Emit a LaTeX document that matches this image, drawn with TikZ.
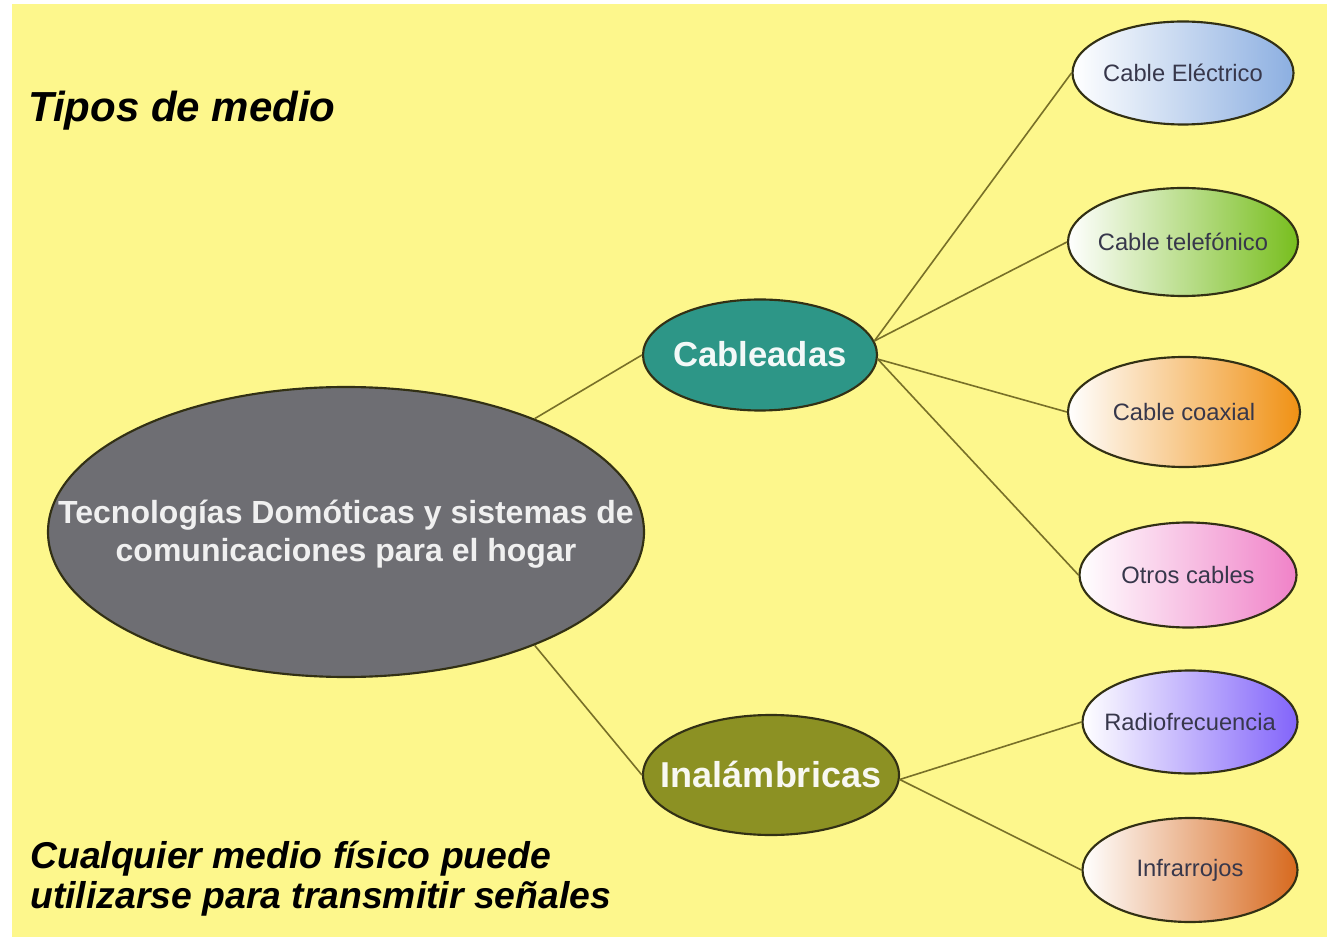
\documentclass[tikz,border=0pt]{standalone}
\usepackage{fontspec}
\setmainfont{Liberation Sans}
\usetikzlibrary{shapes.geometric}
\definecolor{bgyellow}{RGB}{253,247,140}
\definecolor{bigfill}{RGB}{110,110,115}
\definecolor{cabfill}{RGB}{45,150,135}
\definecolor{inalfill}{RGB}{140,145,35}
\definecolor{elcol}{RGB}{140,175,225}
\definecolor{telcol}{RGB}{120,190,30}
\definecolor{coaxcol}{RGB}{240,145,20}
\definecolor{otroscol}{RGB}{240,130,200}
\definecolor{radiocol}{RGB}{130,100,250}
\definecolor{infracol}{RGB}{215,105,30}
\definecolor{outline}{RGB}{50,48,20}
\definecolor{linkcol}{RGB}{120,112,40}
\definecolor{childtext}{RGB}{55,55,75}
\tikzset{
  oval/.style={ellipse, draw=outline, line width=1.6pt, inner sep=0pt},
  childoval/.style={oval, shading=axis, shading angle=90, left color=white, right color=#1},
  childlabel/.style={text=childtext, font=\fontsize{17.8}{20}\selectfont},
  link/.style={draw=linkcol, line width=1.2pt},
  heading/.style={font=\fontsize{#1}{#1}\selectfont\bfseries\itshape, text=black, inner sep=0pt}
}
\begin{document}
\begin{tikzpicture}[x=0.75pt,y=-0.75pt]
\fill[white] (0,0) rectangle (1327,937);
\fill[bgyellow] (12,4) rectangle (1327,937);
\useasboundingbox (0,0) rectangle (1327,937);

% main nodes
\node[oval, fill=bigfill, minimum width=447pt, minimum height=217.5pt] (big) at (346,532) {};
\node[text=white!94!black, font=\fontsize{24}{28.5}\selectfont\bfseries, align=center] (bigtxt) at (346,534) {Tecnologías Domóticas y sistemas de\\comunicaciones para el hogar};

\node[oval, fill=cabfill, minimum width=175.5pt, minimum height=83.25pt] (cab) at (760,355) {};
\node[text=white!94!cabfill, font=\fontsize{26}{30}\selectfont\bfseries] (cabtxt) at (760,354) {Cableadas};

\node[oval, fill=inalfill, minimum width=192pt, minimum height=90pt] (inal) at (771,775) {};
\node[text=white!94!inalfill, font=\fontsize{27}{30}\selectfont\bfseries] (inaltxt) at (771,774) {Inalámbricas};

% children
\node[childoval=elcol, minimum width=165.75pt, minimum height=77.25pt] (el) at (1183,73) {};
\node[childlabel] (eltxt) at (1183,73) {Cable Eléctrico};
\node[childoval=telcol, minimum width=172.5pt, minimum height=81pt] (tel) at (1183,242) {};
\node[childlabel] (teltxt) at (1183,242) {Cable telefónico};
\node[childoval=coaxcol, minimum width=174pt, minimum height=82.5pt] (coax) at (1184,412) {};
\node[childlabel] (coaxtxt) at (1184,412) {Cable coaxial};
\node[childoval=otroscol, minimum width=162.75pt, minimum height=78.75pt] (otros) at (1188,575) {};
\node[childlabel] (otrostxt) at (1188,575) {Otros cables};
\node[childoval=radiocol, minimum width=161.25pt, minimum height=77.25pt] (radio) at (1190,722) {};
\node[childlabel] (radiotxt) at (1190,722) {Radiofrecuencia};
\node[childoval=infracol, minimum width=161.25pt, minimum height=78pt] (infra) at (1190,870) {};
\node[childlabel] (infratxt) at (1190,870) {Infrarrojos};

% connectors
\draw[link] (big.31.6) -- (cab.west);
\draw[link] (big.-31.4) -- (inal.west);
\draw[link] (cab.7) -- (el.west);
\draw[link] (cab.7) -- (tel.west);
\draw[link] (cab.-2) -- (coax.west);
\draw[link] (cab.-2) -- (otros.west);
\draw[link] (inal.-2) -- (radio.west);
\draw[link] (inal.-2) -- (infra.west);

% headings
\node[heading=31.5, anchor=base west] (title) at (28,122) {Tipos de medio};
\node[heading=28, anchor=base west, align=left, font=\fontsize{28}{30}\selectfont\bfseries\itshape] (note) at (30,908) {Cualquier medio físico puede\\utilizarse para transmitir señales};
\end{tikzpicture}
\end{document}
